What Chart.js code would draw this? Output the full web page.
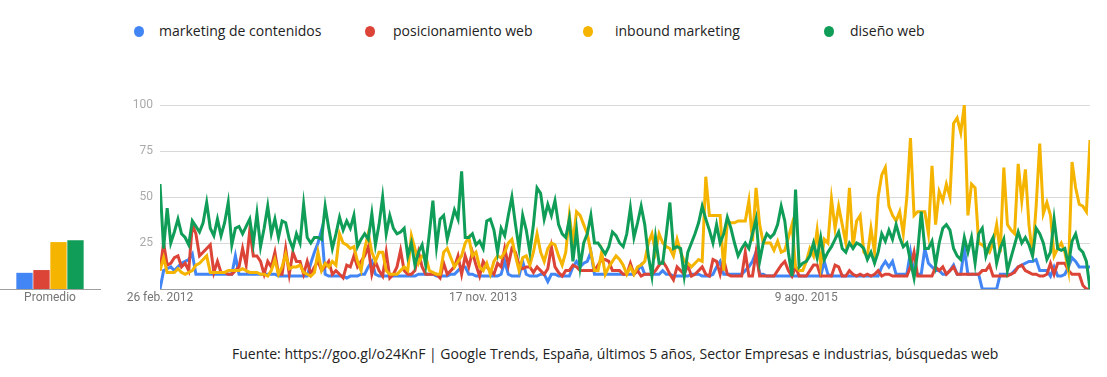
<!DOCTYPE html>
<html>
<head>
<meta charset="utf-8">
<script src="https://cdn.jsdelivr.net/npm/chart.js@4.4.1/dist/chart.umd.min.js"></script>
<style>
  body { margin: 0; background: #fff; }
  #page { position: relative; width: 1107px; height: 377px; overflow: hidden; font-family: "Open Sans", sans-serif; }
  .item { position: absolute; top: 21px; font-size: 14px; color: #222; line-height: 20px; white-space: nowrap; }
  .dot { position: absolute; top: 26px; width: 10px; height: 11px; border-radius: 50%; }
  #avgBox { position: absolute; left: 0; top: 90px; width: 110px; height: 230px; }
  #trendBox { position: absolute; left: 100px; top: 90px; width: 1000px; height: 230px; }
  #source { position: absolute; left: 232px; top: 344px; font-size: 14px; color: #222; line-height: 20px; white-space: nowrap; }
</style>
</head>
<body>
<div id="page">
  <div id="legend"></div>
  <div id="avgBox"><canvas id="avg"></canvas></div>
  <div id="trendBox"><canvas id="trend"></canvas></div>
  <div id="source">Fuente: https://goo.gl/o24KnF | Google Trends, España, últimos 5 años, Sector Empresas e industrias, búsquedas web</div>
</div>
<script>
// series, weekly from 26 feb. 2012
const seriesNames = ["marketing de contenidos", "posicionamiento web", "inbound marketing", "diseño web"];
const seriesColors = ["#4285f4", "#db4437", "#f4b400", "#0f9d58"];
const averages = [8.8, 10.3, 25.5, 26.5];
const yTicks = [0, 25, 50, 75, 100];
const tickWeeks = [0, 90, 180];
const tickLabels = ["26 feb. 2012", "17 nov. 2013", "9 ago. 2015"];

const marketingContenidos = [
  0,10,11,12,10,12,14,15,16,19,8,8,8,8,8,8,8,8,8,8,
  8,18,8,8,8,8,8,8,8,8,8,8,8,7,7,7,7,7,7,7,
  7,7,14,20,25,32,8,7,7,7,7,7,6,7,7,7,8,8,12,15,
  8,7,7,7,7,7,7,7,7,7,7,7,8,8,8,8,8,7,7,7,
  7,8,8,10,12,12,8,8,7,7,7,7,7,7,7,8,15,8,7,7,
  7,15,8,7,7,7,8,8,4,8,8,7,7,7,7,12,15,12,14,15,
  20,8,8,8,8,8,8,8,8,8,8,8,8,10,13,8,8,8,8,8,
  10,8,8,7,7,7,7,7,8,8,8,7,7,7,8,12,15,8,8,8,
  8,8,8,10,12,15,20,8,8,7,7,7,7,7,7,7,7,7,7,7,
  7,7,7,7,7,15,8,7,7,7,7,7,7,7,7,7,7,7,7,7,
  7,12,15,12,15,8,8,8,8,20,8,8,8,22,14,12,10,10,8,8,
  10,13,8,8,22,8,8,8,8,0,0,0,0,0,8,8,8,8,10,12,
  13,14,15,15,16,10,10,10,7,12,7,7,8,12,17,15,12,12,12,12
];
const posicionamientoWeb = [
  10,25,13,14,17,18,12,14,10,35,30,18,20,22,24,9,15,9,9,8,
  8,10,12,22,13,32,18,18,15,8,15,12,20,8,8,22,8,20,15,15,
  8,15,8,12,15,10,12,15,8,10,8,6,13,12,18,12,15,18,23,8,
  15,10,7,20,6,8,12,21,10,8,8,10,20,12,8,8,8,8,6,14,
  8,10,12,18,8,18,12,20,13,7,15,12,10,8,14,12,22,13,22,20,
  13,11,12,12,9,12,10,8,11,23,12,9,7,10,10,13,12,10,10,10,
  10,10,13,16,16,15,10,10,10,8,8,14,8,10,7,8,8,8,10,13,
  15,12,8,5,12,10,8,13,7,8,10,12,8,7,16,15,8,16,8,7,
  7,7,7,20,7,7,20,7,7,7,7,7,10,13,15,10,7,12,7,7,
  7,10,13,13,7,7,7,7,13,12,7,7,10,8,7,8,7,8,7,8,
  10,7,8,8,7,7,7,7,7,12,20,7,7,7,7,7,12,10,12,8,
  10,12,8,8,8,8,8,8,8,10,10,13,7,7,7,7,7,8,9,12,
  13,10,9,8,8,7,7,8,14,8,14,14,14,10,8,8,8,2,0,0
];
const inboundMarketing = [
  10,17,9,9,9,11,9,8,9,10,13,14,16,18,9,9,9,9,9,10,
  10,10,10,11,10,9,9,9,8,8,7,10,16,8,12,19,11,12,12,13,
  9,8,7,9,20,10,14,12,15,13,30,25,24,22,23,15,10,22,30,20,
  15,20,20,10,8,8,8,10,12,10,29,22,14,18,18,10,9,8,8,20,
  22,17,12,15,18,25,28,18,20,12,10,14,8,15,18,17,20,25,27,18,
  10,17,18,13,20,30,20,15,22,25,24,18,13,20,40,25,42,40,35,30,
  20,10,10,20,8,12,15,18,16,13,8,12,8,12,13,15,25,30,20,30,
  25,23,22,18,27,20,15,14,12,14,16,15,61,40,40,40,40,10,37,36,
  36,37,37,37,48,26,55,35,25,25,25,21,26,20,21,28,35,12,10,10,
  15,22,18,32,13,27,25,49,33,45,35,25,55,23,37,40,20,18,33,20,
  50,62,66,45,40,37,42,30,50,82,40,42,42,42,30,67,35,53,48,57,
  50,90,93,85,100,40,57,55,25,24,22,20,25,35,20,66,35,32,30,68,
  48,65,35,18,45,79,41,47,40,18,22,25,20,10,69,55,46,45,42,81
];
const disenoWeb = [
  57,22,44,25,31,38,30,28,24,37,34,31,36,47,33,29,38,29,36,47,
  24,33,34,30,34,38,25,41,23,33,45,30,38,28,37,36,27,22,30,25,
  46,28,25,28,28,27,45,33,22,30,39,32,37,33,40,23,27,30,27,41,
  24,35,50,30,40,33,30,31,33,18,25,13,20,24,13,30,48,23,38,40,
  27,35,43,38,64,28,28,30,24,26,22,37,38,32,20,33,29,40,50,35,
  22,40,32,20,35,55,52,38,46,40,48,35,30,28,38,15,32,12,25,30,
  40,25,25,22,19,23,31,29,25,23,30,44,28,36,45,35,18,7,28,14,
  14,30,47,22,23,22,7,20,25,30,36,45,38,32,25,35,25,30,39,33,
  25,18,22,25,22,30,38,15,25,30,28,30,35,45,37,20,7,54,12,14,
  15,18,25,17,28,16,20,23,27,31,22,20,25,22,25,24,22,16,20,14,
  20,30,26,32,27,35,28,23,25,15,6,20,42,22,22,26,13,25,33,35,
  32,22,18,16,28,20,28,14,30,33,18,24,28,14,22,27,10,17,24,31,
  25,28,24,18,33,30,25,16,20,38,22,21,22,13,26,30,22,20,15,0
];
const seriesValues = [marketingContenidos, posicionamientoWeb, inboundMarketing, disenoWeb];

// legend (html)
const legendX = [134, 365, 583, 824];
const legendTextX = [159, 393, 615, 850];
const legend = document.getElementById("legend");
seriesNames.forEach((name, i) => {
  const dot = document.createElement("div");
  dot.className = "dot";
  dot.style.left = legendX[i] + "px";
  dot.style.background = seriesColors[i];
  legend.appendChild(dot);
  const txt = document.createElement("div");
  txt.className = "item";
  txt.style.left = legendTextX[i] + "px";
  txt.textContent = name;
  legend.appendChild(txt);
});

const axisFont = { family: "Roboto", size: 12 };

new Chart(document.getElementById("avg"), {
  type: "bar",
  data: {
    labels: ["Promedio"],
    datasets: seriesNames.map((n, i) => ({
      label: n,
      data: [averages[i]],
      backgroundColor: seriesColors[i],
      barPercentage: 0.96,
      categoryPercentage: 0.68
    }))
  },
  options: {
    animation: false,
    responsive: true,
    maintainAspectRatio: false,
    layout: { padding: { top: 15, right: 10, left: 0, bottom: 0 } },
    plugins: { legend: { display: false }, tooltip: { enabled: false } },
    scales: {
      x: {
        grid: { display: false, drawTicks: false },
        border: { display: true, color: "#9e9e9e" },
        ticks: { color: "#757575", font: axisFont, padding: 2 },
        afterFit: s => { s.height = 31; }
      },
      y: { display: false, min: 0, max: 100 }
    }
  }
});

new Chart(document.getElementById("trend"), {
  type: "line",
  data: {
    datasets: seriesNames.map((n, i) => ({
      label: n,
      data: seriesValues[i].map((v, w) => ({ x: w, y: v })),
      borderColor: seriesColors[i],
      borderWidth: 3,
      pointRadius: 0,
      tension: 0,
      fill: false,
      order: 3 - i
    }))
  },
  options: {
    animation: false,
    responsive: true,
    maintainAspectRatio: false,
    layout: { padding: { top: 15, right: 10, left: 0, bottom: 0 } },
    plugins: { legend: { display: false }, tooltip: { enabled: false } },
    scales: {
      x: {
        type: "linear",
        min: 0,
        max: 259,
        afterBuildTicks: s => { s.ticks = tickWeeks.map(v => ({ value: v })); },
        afterFit: s => { s.height = 31; },
        grid: { display: false, drawTicks: false },
        border: { display: false },
        ticks: {
          autoSkip: false,
          maxRotation: 0,
          color: "#757575",
          font: axisFont,
          padding: 2,
          callback: v => tickLabels[tickWeeks.indexOf(v)]
        }
      },
      y: {
        min: 0,
        max: 100,
        afterBuildTicks: s => { s.ticks = yTicks.map(v => ({ value: v })); },
        afterFit: s => { s.width = 60; },
        grid: {
          drawTicks: false,
          lineWidth: 1,
          color: yTicks.map(v => (v === 0 ? "#9e9e9e" : "#d9d9d9"))
        },
        border: { display: false },
        ticks: {
          color: "#aaaaaa",
          font: axisFont,
          padding: 7,
          callback: v => (v === 0 ? "" : v)
        }
      }
    }
  }
});
</script>
</body>
</html>
